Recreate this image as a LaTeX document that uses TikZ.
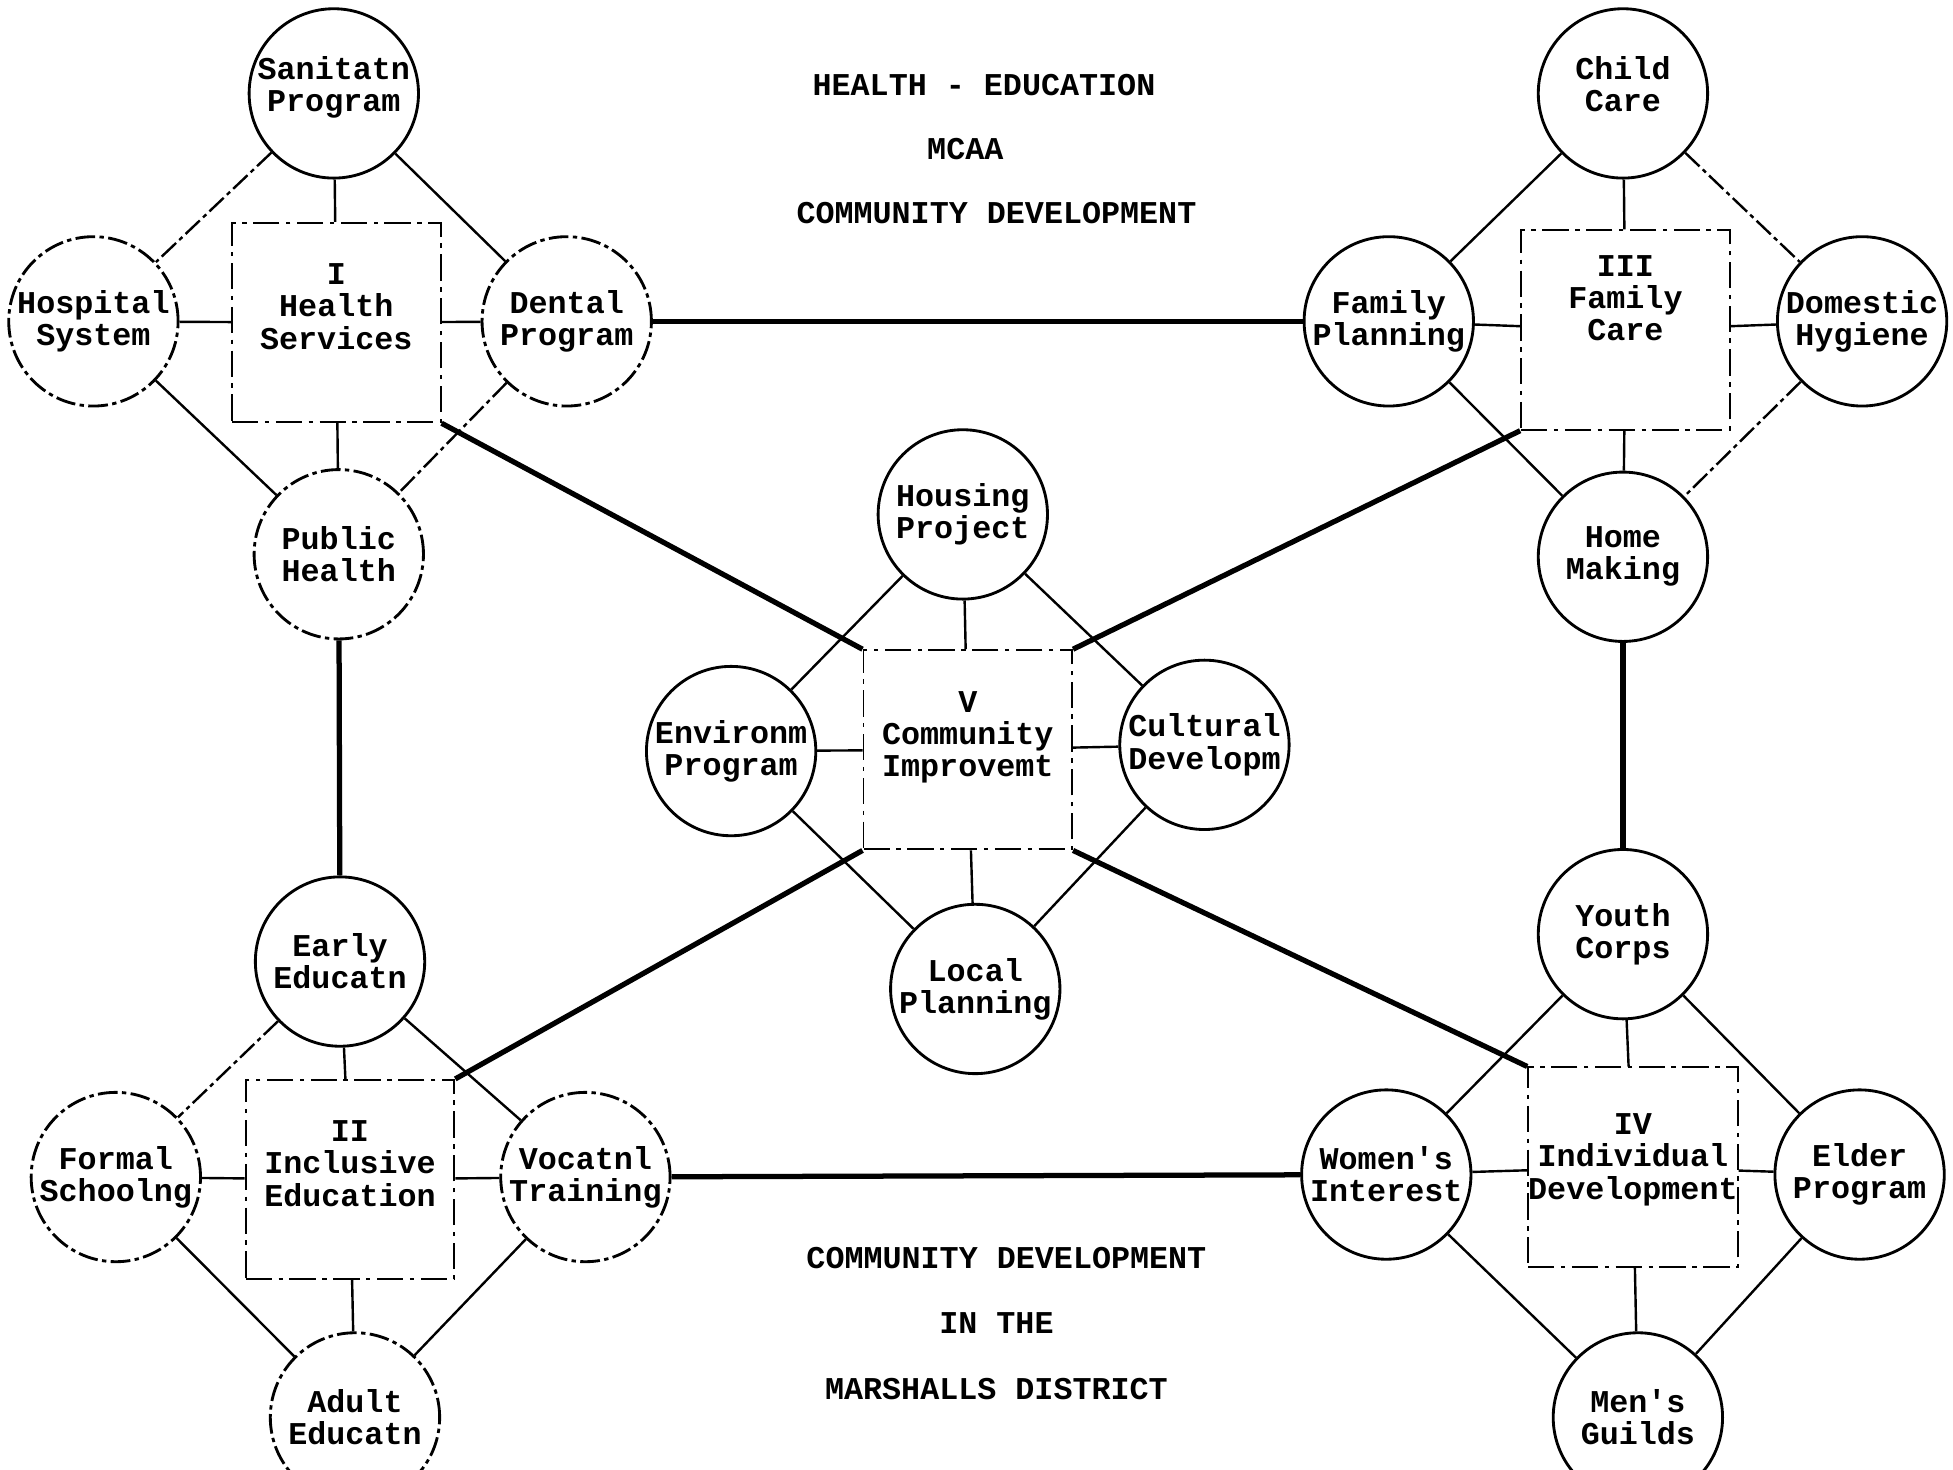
\documentclass[tikz,border=0pt]{standalone}
\usepackage{fontspec}
\setmainfont{Liberation Mono}
\tikzset{
  topic/.style={circle,draw,line width=1.3pt,minimum size=2.72cm,inner sep=0pt,align=center},
  faint/.style={dash pattern=on 9pt off 2pt on 2pt off 2pt},
  areabox/.style={rectangle,draw,line width=0.9pt,dash pattern=on 12pt off 3pt on 2pt off 3pt,
    minimum width=3.35cm,minimum height=3.2cm,inner sep=0pt,align=center},
  spoke/.style={line width=1.1pt},
  trunk/.style={line width=2.4pt},
}
\begin{document}
\begin{tikzpicture}[x=0.02cm,y=-0.02cm,font=\bfseries\fontsize{14.5}{14.7}\selectfont]
    \useasboundingbox (0,0) rectangle (1568,1180);
    %% titles
    \node (title) at (790,68) {HEALTH - EDUCATION};
    \node (mcaa) at (775,120) {MCAA};
    \node (comdev) at (800,171) {COMMUNITY DEVELOPMENT};
    \node (footA) at (808,1010) {COMMUNITY DEVELOPMENT};
    \node (footB) at (800,1062) {IN THE};
    \node (footC) at (800,1115) {MARSHALLS DISTRICT};
    %% I health services
    \node[areabox] (health) at (270,259) {I\\Health\\Services\\~};
    \node[topic] (sanit) at (268,75) {Sanitatn\\Program\\[-6pt]~};
    \node[topic,faint] (hosp) at (75,258) {Hospital\\System};
    \node[topic,faint] (dental) at (455,258) {Dental\\Program};
    \node[topic,faint] (public) at (272,445) {Public\\Health};
    %% III family care
    \node[areabox] (family) at (1305,265) {III\\Family\\Care\\~\\~};
    \node[topic] (child) at (1303,75) {Child\\Care\\[-6pt]~};
    \node[topic] (famplan) at (1115,258) {Family\\Planning};
    \node[topic] (domestic) at (1495,258) {Domestic\\Hygiene};
    \node[topic] (home) at (1303,447) {Home\\Making};
    %% V community improvement
    \node[areabox] (commun) at (777,602) {V\\Community\\Improvemt\\~};
    \node[topic] (housing) at (773,413) {Housing\\Project};
    \node[topic] (environ) at (587,603) {Environm\\Program};
    \node[topic] (cultural) at (967,598) {Cultural\\Developm};
    \node[topic] (local) at (783,794) {Local\\Planning};
    %% II inclusive education
    \node[areabox] (educ) at (281,947) {II\\Inclusive\\Education\\~};
    \node[topic] (early) at (273,772) {Early\\Educatn};
    \node[topic,faint] (formal) at (93,945) {Formal\\Schoolng};
    \node[topic,faint] (vocat) at (470,945) {Vocatnl\\Training};
    \node[topic,faint] (adult) at (285,1138) {Adult\\Educatn};
    %% IV individual development
    \node[areabox] (indiv) at (1311,937) {IV\\Individual\\Development\\[-5pt]~};
    \node[topic] (youth) at (1303,750) {Youth\\Corps};
    \node[topic] (women) at (1113,943) {Women\textquotesingle s\\Interest};
    \node[topic] (elder) at (1493,943) {Elder\\Program};
    \node[topic] (mens) at (1315,1138) {Men\textquotesingle s\\Guilds};
    %% spokes from the circles to their box
    \foreach \a/\b in {sanit/health,hosp/health,dental/health,public/health,
        child/family,famplan/family,domestic/family,home/family,
        housing/commun,environ/commun,cultural/commun,local/commun,
        early/educ,formal/educ,vocat/educ,adult/educ,
        youth/indiv,women/indiv,elder/indiv,mens/indiv}
        \draw[spoke] (\a) -- (\b);
    %% diamonds round each box
    \foreach \a/\b in {sanit/dental,hosp/public,child/famplan,famplan/home,
        housing/environ,housing/cultural,environ/local,cultural/local,
        early/vocat,formal/adult,vocat/adult,
        youth/women,youth/elder,women/mens,elder/mens}
        \draw[spoke] (\a) -- (\b);
    \foreach \a/\b in {sanit/hosp,dental/public,child/domestic,domestic/home,early/formal}
        \draw[spoke,faint] (\a) -- (\b);
    %% trunk lines between the areas
    \draw[trunk] (dental) -- (famplan);
    \draw[trunk] (public) -- (early);
    \draw[trunk] (home) -- (youth);
    \draw[trunk] (vocat) -- (women);
    \draw[trunk] (health.south east) -- (commun.north west);
    \draw[trunk] (family.south west) -- (commun.north east);
    \draw[trunk] (commun.south west) -- (educ.north east);
    \draw[trunk] (commun.south east) -- (indiv.north west);
\end{tikzpicture}
\end{document}
